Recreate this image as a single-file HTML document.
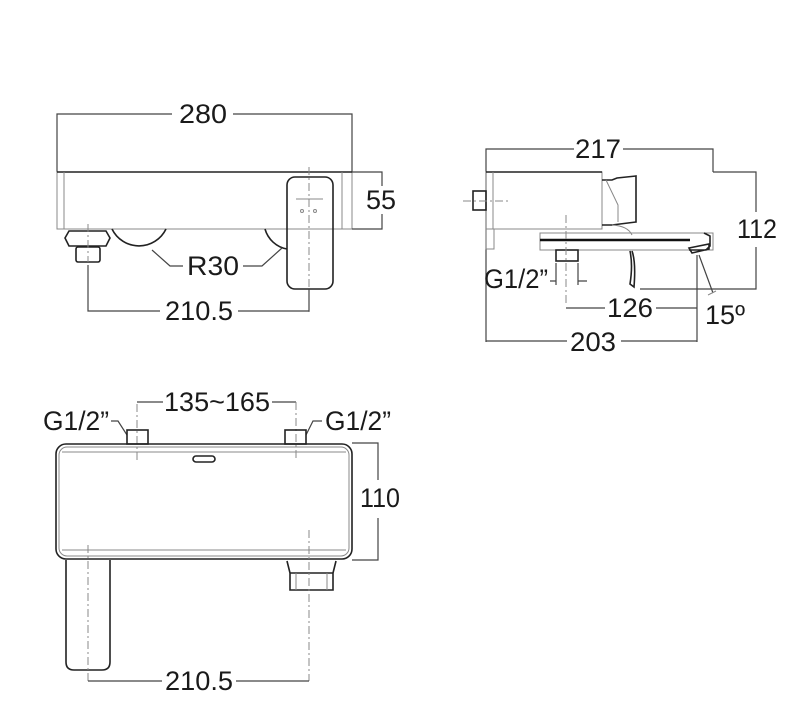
<!DOCTYPE html>
<html><head><meta charset="utf-8"><style>
html,body{margin:0;padding:0;background:#fff}
svg{display:block}
text{font-family:"Liberation Sans",Arial,sans-serif;font-size:27px;fill:#1a1a1a;dominant-baseline:central}
.d{stroke:#444;stroke-width:1.2;fill:none}
.o{stroke:#222;stroke-width:1.6;fill:none}
.t{stroke:#888;stroke-width:1;fill:none}
.c{stroke:#888;stroke-width:1;fill:none;stroke-dasharray:8 3 2 3}
</style></head><body>
<svg width="789" height="716" viewBox="0 0 789 716" xmlns="http://www.w3.org/2000/svg">
<!-- VIEW 1 -->
<path class="d" d="M57 172V114H172M233 114H352V172"/>
<text x="203" y="114" text-anchor="middle" textLength="48" lengthAdjust="spacingAndGlyphs">280</text>
<rect class="t" x="57" y="172" width="295" height="57"/>
<line class="o" x1="57" y1="172" x2="352" y2="172"/>
<line class="t" x1="64" y1="172" x2="64" y2="229"/>
<line class="t" x1="342" y1="172" x2="342" y2="229"/>
<path class="d" d="M352 172H382V186M382 214V229H352"/>
<text x="381" y="200" text-anchor="middle" textLength="30" lengthAdjust="spacingAndGlyphs">55</text>
<rect class="o" x="287" y="177" width="46" height="112" rx="8"/>
<line class="c" x1="309" y1="167" x2="309" y2="312"/>
<line class="t" x1="296" y1="199" x2="323" y2="199"/>
<circle cx="302" cy="211" r="1.5" class="t"/><circle cx="315" cy="211" r="1.5" class="t"/>
<path class="o" d="M69 231L106 231L110 238L106 246L69 246L65 238Z"/>
<rect class="o" x="76" y="247" width="24" height="15" rx="2"/>
<path class="o" d="M112 229A30 30 0 0 0 166 229"/>
<path class="o" d="M265 229A28 28 0 0 0 287 249"/>
<path class="d" d="M152 250L170 266H183M243 266H262L282 248"/>
<text x="213" y="266" text-anchor="middle" textLength="52" lengthAdjust="spacingAndGlyphs">R30</text>
<line class="c" x1="88" y1="224" x2="88" y2="262"/>
<path class="d" d="M88 265V311H160M238 311H309V289"/>
<text x="199" y="311" text-anchor="middle" textLength="68" lengthAdjust="spacingAndGlyphs">210.5</text>

<!-- VIEW 2 -->
<path class="d" d="M486 342V149H574M623 149H713V172"/>
<text x="598" y="149" text-anchor="middle" textLength="46" lengthAdjust="spacingAndGlyphs">217</text>
<rect class="t" x="486" y="172" width="116" height="57"/>
<line class="o" x1="486" y1="172" x2="602" y2="172"/>
<line class="t" x1="493" y1="172" x2="493" y2="229"/>
<rect class="o" x="473" y="191" width="13" height="19"/>
<line class="c" x1="463" y1="201" x2="508" y2="201"/>
<rect class="t" x="486" y="229" width="8" height="20"/>
<path class="o" d="M602 180H612L617 178L636 176V222L612 225H602"/>
<path class="t" d="M606 180L618 205V222M612 225Q628 226 632 235"/>
<rect class="t" x="540" y="233" width="173" height="17"/>
<line stroke="#111" stroke-width="2.5" x1="540" y1="240" x2="690" y2="240"/>
<path class="o" d="M689 250H706L710 246V236L704 233M689 248L709 244L709 249L692 253Z"/>
<rect class="o" x="556" y="250" width="22" height="11"/>
<path class="o" d="M632 251Q636 262 634 287L630 284Q633 265 630 251"/>
<line class="c" x1="566" y1="215" x2="566" y2="305"/>
<path class="d" d="M713 172H756V212M756 247V289H640"/>
<text x="757" y="229" text-anchor="middle" textLength="40" lengthAdjust="spacingAndGlyphs">112</text>
<text x="516" y="279" text-anchor="middle" textLength="64" lengthAdjust="spacingAndGlyphs">G1/2”</text>
<path class="d" d="M556 263V285M578 263V285M550 281H556M578 281H587"/>
<path class="d" d="M566 308H605M656 308H697"/>
<text x="630" y="308" text-anchor="middle" textLength="46" lengthAdjust="spacingAndGlyphs">126</text>
<line class="d" x1="697" y1="255" x2="697" y2="342"/>
<line class="d" x1="699" y1="255" x2="713" y2="293"/>
<line class="t" x1="708" y1="295" x2="716" y2="291"/>
<text x="725" y="315" text-anchor="middle" textLength="40" lengthAdjust="spacingAndGlyphs">15º</text>
<path class="d" d="M486 341H567M621 341H697"/>
<text x="593" y="342" text-anchor="middle" textLength="46" lengthAdjust="spacingAndGlyphs">203</text>

<!-- VIEW 3 -->
<path class="c" d="M137 460V402"/><path class="d" d="M137 402H163M272 402H296"/><path class="c" d="M296 402V460"/>
<text x="217" y="402" text-anchor="middle" textLength="106" lengthAdjust="spacingAndGlyphs">135~165</text>
<text x="76" y="421" text-anchor="middle" textLength="66" lengthAdjust="spacingAndGlyphs">G1/2”</text>
<path class="d" d="M111 421H118L127 435"/>
<text x="358" y="421" text-anchor="middle" textLength="66" lengthAdjust="spacingAndGlyphs">G1/2”</text>
<path class="d" d="M306 435L313 421H322"/>
<rect class="o" x="127" y="430" width="21" height="14"/>
<rect class="o" x="285" y="430" width="21" height="14"/>
<rect class="o" x="56" y="444" width="296" height="115" rx="10"/>
<rect class="t" x="59" y="447" width="290" height="109" rx="8"/>
<line class="t" x1="62" y1="452" x2="346" y2="452"/>
<line class="t" x1="62" y1="550" x2="346" y2="550"/>
<rect class="o" x="193" y="456" width="22" height="6" rx="3"/>
<path class="d" d="M352 443H378V480M378 518V560H352"/>
<text x="380" y="498" text-anchor="middle" textLength="40" lengthAdjust="spacingAndGlyphs">110</text>
<path class="o" d="M66 560V662Q66 670 74 670H102Q110 670 110 662V560"/>
<path class="o" d="M287 561L290 573V590H333V573L336 561M290 573H333"/>
<line class="t" x1="296" y1="573" x2="296" y2="590"/><line class="t" x1="327" y1="573" x2="327" y2="590"/>
<line class="c" x1="88" y1="545" x2="88" y2="681"/>
<line class="c" x1="309" y1="530" x2="309" y2="681"/>
<path class="d" d="M88 681H162M236 681H309"/>
<text x="199" y="681" text-anchor="middle" textLength="68" lengthAdjust="spacingAndGlyphs">210.5</text>
</svg>
</body></html>
